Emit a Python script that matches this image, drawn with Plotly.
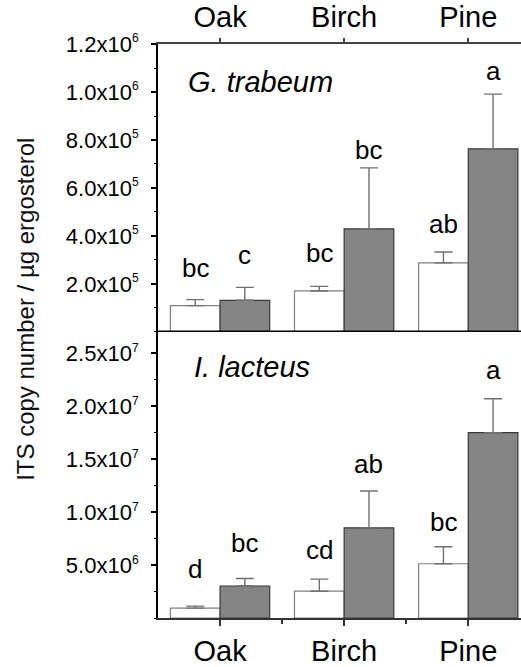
import plotly.graph_objects as go

categories = ["Oak", "Birch", "Pine"]

# G. trabeum (top panel)
g_white = [1.10e5, 1.71e5, 2.88e5]
g_white_err = [0.25e5, 0.19e5, 0.45e5]
g_grey = [1.32e5, 4.30e5, 7.63e5]
g_grey_err = [0.54e5, 2.54e5, 2.28e5]
g_white_letters = ["bc", "bc", "ab"]
g_grey_letters = ["c", "bc", "a"]

# I. lacteus (bottom panel)
i_white = [0.93e6, 2.53e6, 5.12e6]
i_white_err = [0.19e6, 1.14e6, 1.60e6]
i_grey = [3.02e6, 8.51e6, 17.5e6]
i_grey_err = [0.71e6, 3.48e6, 3.20e6]
i_white_letters = ["d", "cd", "bc"]
i_grey_letters = ["bc", "ab", "a"]

top_tickvals = [2e5, 4e5, 6e5, 8e5, 1.0e6, 1.2e6]
top_mant = ["2.0", "4.0", "6.0", "8.0", "1.0", "1.2"]
top_exp = ["5", "5", "5", "5", "6", "6"]
bot_tickvals = [5e6, 1.0e7, 1.5e7, 2.0e7, 2.5e7]
bot_mant = ["5.0", "1.0", "1.5", "2.0", "2.5"]
bot_exp = ["6", "7", "7", "7", "7"]

def sci_labels(mant, exp):
    return [f"{m}x10<sup><span style='font-size:12px'>{e}</span></sup>"
            for m, e in zip(mant, exp)]

top_ticktext = sci_labels(top_mant, top_exp)
bot_ticktext = sci_labels(bot_mant, bot_exp)

# label offsets (px above error bar top) - style
g_white_shift = [32, 33, 28]
g_grey_shift = [32, 18, 23]
i_white_shift = [37, 29, 25]
i_grey_shift = [35, 27, 29]

FONT = "Liberation Sans, Arial, sans-serif"
xs = list(range(len(categories)))

W, H = 521, 667
ML, MR, MT, MB = 157.5, 0, 44, 39
plot_h = H - MT - MB
split = (plot_h - (337 - MT)) / plot_h

fig = go.Figure()

def add_bars(vals, errs, fill, line, xa, ya, name):
    fig.add_trace(go.Bar(
        x=xs, y=vals, name=name, xaxis=xa, yaxis=ya,
        marker=dict(color=fill, line=dict(color=line, width=1.2)),
        error_y=dict(type="data", symmetric=False, array=errs,
                     arrayminus=[0] * len(errs), color="#707070",
                     thickness=1.4, width=9),
        showlegend=False,
    ))

add_bars(g_white, g_white_err, "white", "#808080", "x2", "y2", "white")
add_bars(g_grey, g_grey_err, "#858585", "#3a3a3a", "x2", "y2", "grey")
add_bars(i_white, i_white_err, "white", "#808080", "x", "y", "white")
add_bars(i_grey, i_grey_err, "#858585", "#3a3a3a", "x", "y", "grey")

ann = []
def add_letters(vals, errs, letters, shifts, dx, xref, yref):
    for i, (v, e, t, s) in enumerate(zip(vals, errs, letters, shifts)):
        ann.append(dict(x=xs[i] + dx, y=v + e, xref=xref, yref=yref, text=t,
                        showarrow=False, yanchor="middle", yshift=s,
                        font=dict(family=FONT, size=26, color="black")))

add_letters(g_white, g_white_err, g_white_letters, g_white_shift, -0.2, "x2", "y2")
add_letters(g_grey, g_grey_err, g_grey_letters, g_grey_shift, 0.2, "x2", "y2")
add_letters(i_white, i_white_err, i_white_letters, i_white_shift, -0.2, "x", "y")
add_letters(i_grey, i_grey_err, i_grey_letters, i_grey_shift, 0.2, "x", "y")

ann.append(dict(x=0.078, y=0.867, xref="x2 domain", yref="y2 domain",
                text="<i>G. trabeum</i>", showarrow=False, xanchor="left",
                yanchor="middle", font=dict(family=FONT, size=29, color="black")))
ann.append(dict(x=0.094, y=0.876, xref="x domain", yref="y domain",
                text="<i>I. lacteus</i>", showarrow=False, xanchor="left",
                yanchor="middle", font=dict(family=FONT, size=29, color="black")))
ann.append(dict(x=-0.365, y=0.5377, xref="paper", yref="paper",
                text="ITS copy number / µg ergosterol", textangle=-90,
                showarrow=False, xanchor="center", yanchor="middle",
                font=dict(family=FONT, size=24, color="#111")))

xr = [-0.5, 2.425]
ytick_common = dict(showline=True, linecolor="black", linewidth=2,
                    ticks="outside", ticklen=5, tickwidth=1.5,
                    tickcolor="black", showgrid=False, zeroline=False,
                    tickfont=dict(size=22, family=FONT), ticklabelstandoff=8)
fig.update_layout(
    width=W, height=H,
    margin=dict(l=ML, r=MR, t=MT, b=MB, pad=0),
    paper_bgcolor="white", plot_bgcolor="white",
    barmode="group", bargap=0.2, bargroupgap=0,
    annotations=ann,
    font=dict(family=FONT, color="black"),
    xaxis=dict(domain=[0, 1], anchor="y", range=xr, tickvals=xs,
               ticktext=categories, showline=True, linecolor="#333",
               linewidth=2, ticks="outside", ticklen=6, tickwidth=1.5,
               tickcolor="#333", showgrid=False, zeroline=False,
               tickfont=dict(size=29, family=FONT),
               minor=dict(tickvals=[0.5, 1.5], ticks="outside", ticklen=4,
                          tickcolor="#333", tickwidth=1.5)),
    yaxis=dict(domain=[0, split], anchor="x", range=[0, 2.7e7],
               tickvals=bot_tickvals, ticktext=bot_ticktext,
               minor=dict(dtick=2.5e6, ticks="outside", ticklen=2,
                          tickcolor="black", tickwidth=1),
               **ytick_common),
    xaxis2=dict(domain=[0, 1], anchor="y2", side="top", range=xr,
                tickvals=xs, ticktext=categories, showline=True,
                linecolor="#444", linewidth=1.5, ticks="outside", ticklen=4,
                tickwidth=1.5, tickcolor="#444", showgrid=False,
                zeroline=False, tickfont=dict(size=29, family=FONT)),
    yaxis2=dict(domain=[split, 1], anchor="x2", range=[0, 1.2e6],
                tickvals=top_tickvals, ticktext=top_ticktext,
                minor=dict(dtick=1e5, ticks="outside", ticklen=2,
                           tickcolor="black", tickwidth=1),
                **ytick_common),
    shapes=[dict(type="line", xref="x2 domain", yref="y2", x0=0, x1=1,
                 y0=0, y1=0, line=dict(color="black", width=3), layer="above")],
)

fig.write_html("out.html")
